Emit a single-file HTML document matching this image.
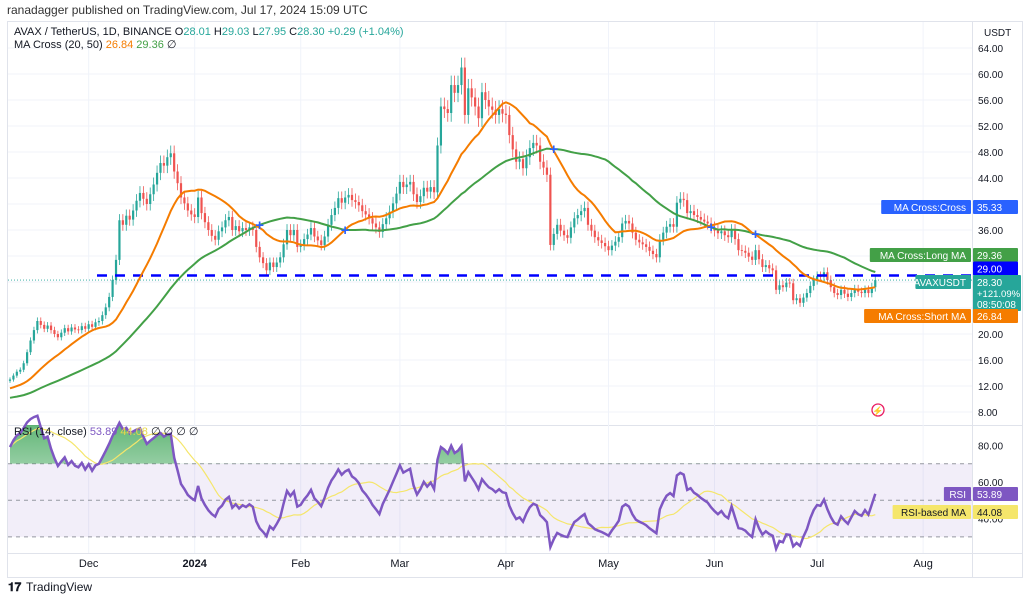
<!DOCTYPE html>
<html><head><meta charset="utf-8"><style>
body{margin:0;background:#fff;font-family:"Liberation Sans",sans-serif;}
svg{display:block}
text{font-family:"Liberation Sans",sans-serif}
</style></head><body>
<svg id="c" width="1030" height="600" viewBox="0 0 1030 600">
<defs>
<linearGradient id="gf" x1="0" y1="0" x2="0" y2="1"><stop offset="0" stop-color="#2e9e4a" stop-opacity="0.8"/><stop offset="1" stop-color="#2e9e4a" stop-opacity="0"/></linearGradient>
<clipPath id="ob"><rect x="8" y="425" width="964" height="38.7"/></clipPath>
</defs>
<text x="7" y="14" font-size="12" fill="#333">ranadagger published on TradingView.com, Jul 17, 2024 15:09 UTC</text>
<rect x="7.5" y="21.5" width="1015" height="556" fill="none" stroke="#e0e3eb"/>
<line x1="8" y1="425.5" x2="1022" y2="425.5" stroke="#e0e3eb"/>
<line x1="8" y1="553.5" x2="1022" y2="553.5" stroke="#e0e3eb"/>
<line x1="972.5" y1="22" x2="972.5" y2="577" stroke="#e0e3eb"/>
<g id="grid"></g>
<rect x="8" y="463.7" width="964" height="73.2" fill="#7e57c2" fill-opacity="0.1"/>
<g id="rsiLines"></g>
<g id="plot"></g>
<g id="axes"></g>
<text x="14" y="35" font-size="11"><tspan fill="#131722">AVAX / TetherUS, 1D, BINANCE  O</tspan><tspan fill="#26a69a">28.01</tspan><tspan fill="#131722">  H</tspan><tspan fill="#26a69a">29.03</tspan><tspan fill="#131722">  L</tspan><tspan fill="#26a69a">27.95</tspan><tspan fill="#131722">  C</tspan><tspan fill="#26a69a">28.30  +0.29 (+1.04%)</tspan></text>
<text x="14" y="48" font-size="11"><tspan fill="#131722">MA Cross (20, 50)  </tspan><tspan fill="#f57c00">26.84</tspan><tspan fill="#43a047">  29.36</tspan><tspan fill="#131722">  ∅</tspan></text>
<text x="14" y="435" font-size="11"><tspan fill="#131722">RSI (14, close)  </tspan><tspan fill="#7e57c2">53.89</tspan><tspan fill="#e8d74a">  44.08</tspan><tspan fill="#131722">  ∅  ∅  ∅  ∅</tspan></text>
<circle cx="878" cy="410" r="6" fill="none" stroke="#e91e63" stroke-width="1.3"/>
<text x="878" y="414" font-size="9" fill="#e91e63" text-anchor="middle">⚡</text>
<text x="8" y="591" font-size="12" font-weight="bold" fill="#131722">𝟏𝟕</text>
<text x="26" y="591" font-size="12" fill="#131722">TradingView</text>
</svg>
<script>
const prior=[9.2,9.3,9.1,9.0,9.2,9.4,9.3,9.2,9.1,9.3,9.6,9.4,9.2,9.0,8.9,8.8,8.9,9.0,9.1,9.0,8.9,8.8,8.9,9.1,9.3,9.5,9.4,9.6,9.8,10.0,10.3,10.6,10.4,10.8,11.0,10.9,11.2,11.4,11.3,11.6,11.8,12.1,11.9,12.2,12.0,12.4,12.6,12.5,12.8];
const closes=[13.0,13.6,14.2,14.5,15.5,17.2,19.0,20.6,22.0,21.4,
20.8,21.3,20.6,20.0,19.5,20.2,20.9,20.4,21.0,20.7,
20.6,21.2,20.8,21.5,21.1,21.8,22.0,22.9,24.1,25.7,
28.3,31.4,37.5,36.8,38.2,37.6,39.0,40.5,41.7,40.8,
40.0,41.5,43.0,44.8,46.3,45.9,47.2,47.8,45.0,43.2,
41.0,40.1,39.0,38.4,38.0,41.0,38.6,37.2,36.0,35.1,
34.5,35.8,36.4,37.5,38.0,36.0,36.6,35.8,36.3,36.0,
36.4,36.0,33.4,31.8,30.9,29.8,31.0,30.3,31.0,31.8,
33.8,36.0,35.2,36.0,33.4,33.7,34.6,35.3,36.3,35.0,
34.4,33.7,35.0,36.8,38.3,39.4,40.9,40.2,41.0,41.4,
40.6,40.3,39.8,38.9,38.4,37.8,37.0,36.4,35.7,36.9,
37.8,38.8,40.1,41.6,43.4,42.6,43.0,43.4,41.5,40.3,
41.2,42.5,41.9,42.6,41.8,49.0,55.0,54.6,54.0,58.3,
57.1,58.3,61.0,53.7,57.8,56.4,55.0,53.2,57.2,56.0,
55.0,54.5,53.7,54.6,53.9,53.7,50.6,48.4,46.5,46.9,
45.5,47.2,48.6,49.4,49.0,46.5,45.6,44.5,33.7,35.4,
36.8,35.9,35.2,34.8,36.4,37.8,38.3,38.9,39.4,36.8,
35.9,34.9,34.4,34.0,33.5,32.9,33.6,34.2,34.9,37.0,
37.4,37.0,35.6,34.5,34.1,33.8,33.4,32.8,32.3,31.8,
34.5,35.6,36.5,36.9,36.5,40.2,40.8,40.6,38.6,38.9,
38.3,38.0,37.6,37.3,37.0,36.4,35.9,35.5,35.8,35.2,
34.9,36.0,34.6,32.9,32.8,32.5,31.9,31.4,32.9,31.5,
30.3,30.6,30.1,29.8,26.8,27.5,27.2,27.9,27.8,25.2,
25.5,24.8,25.6,26.3,27.4,28.3,28.9,28.8,29.5,28.3,
27.2,26.3,26.0,26.8,26.2,25.7,26.3,26.9,26.5,26.3,
26.8,26.3,27.2,28.3];
const priceTicks=[8,12,16,20,24,28,32,36,40,44,48,52,56,60,64];
const rsiTicks=[40,60,80];
const monthLabels=["Dec","2024","Feb","Mar","Apr","May","Jun","Jul","Aug"];
const monthDays=[23,54,85,114,145,175,206,236,267];
const resistance=29.0;
const NS="http://www.w3.org/2000/svg";
const xOf=d=>10+d*3.42;
const yP=p=>412-(p-8)*6.5;
const yR=r=>482-(r-60)*1.83;
function mk(tag,at,parent){const e=document.createElementNS(NS,tag);for(const k in at)e.setAttribute(k,at[k]);document.getElementById(parent).appendChild(e);return e;}
const all=prior.concat(closes),P=prior.length;
function sma(n,i){let s=0,c=0;for(let k=Math.max(0,i-n+1);k<=i;k++){s+=all[k];c++;}return s/c;}
monthDays.forEach((d,i)=>{const x=xOf(d);if(x<972){let g=mk('line',{x1:x,x2:x,y1:22,y2:553,stroke:'#f0f3fa'},'grid');

}
let t=mk('text',{x:x,y:567,'font-size':11,fill:'#131722','text-anchor':'middle','font-weight':i==1?'bold':'normal'},'axes');t.textContent=monthLabels[i];

});
priceTicks.forEach(p=>{let g=mk('line',{x1:8,x2:972,y1:yP(p),y2:yP(p),stroke:'#f0f3fa'},'grid');


let t=mk('text',{x:978,y:yP(p)+4,'font-size':10,fill:'#131722'},'axes');t.textContent=p.toFixed(2);

});
let ut=mk('text',{x:984,y:36,'font-size':10,fill:'#131722'},'axes');ut.textContent='USDT';


rsiTicks.forEach(r=>{let t=mk('text',{x:978,y:yR(r)+4,'font-size':10,fill:'#131722'},'axes');t.textContent=r.toFixed(2);

});
[70,50,30].forEach(r=>{let l=mk('line',{x1:8,x2:972,y1:yR(r),y2:yR(r),stroke:'#9598a1','stroke-dasharray':'4,4','stroke-width':1},'rsiLines');

});
closes.forEach((c,i)=>{const o=all[P+i-1],x=xOf(i),up=c>=o,col=up?'#26a69a':'#ef5350';
const hi=Math.max(o,c)*1.025,lo=Math.min(o,c)*0.975;
let w=mk('line',{x1:x,x2:x,y1:yP(hi),y2:yP(lo),stroke:col,'stroke-width':0.8},'plot');


let b=mk('rect',{x:x-1.1,y:yP(Math.max(o,c)),width:2.2,height:Math.max(0.8,Math.abs(yP(o)-yP(c))),fill:col},'plot');

});
let rl=mk('line',{x1:97,x2:972,y1:yP(resistance),y2:yP(resistance),stroke:'#0000ff','stroke-width':2.5,'stroke-dasharray':'10,8'},'plot');


const last=closes[closes.length-1];
let ll=mk('line',{x1:8,x2:972,y1:yP(last),y2:yP(last),stroke:'#26a69a','stroke-width':0.8,'stroke-dasharray':'1,2'},'plot');


const s20=closes.map((_,i)=>sma(20,P+i)),s50=closes.map((_,i)=>sma(50,P+i));
[[s50,'#43a047','ma-long-line'],[s20,'#f57c00','ma-short-line']].forEach(([s,col,nm])=>{
let p=mk('path',{d:s.map((v,i)=>(i?'L':'M')+xOf(i).toFixed(1)+','+yP(v).toFixed(1)).join(''),fill:'none',stroke:col,'stroke-width':2},'plot');

});
for(let i=1;i<closes.length;i++){if(Math.sign(s20[i]-s50[i])!=Math.sign(s20[i-1]-s50[i-1])){
let m=mk('text',{x:xOf(i),y:yP(s50[i])+5,'font-size':15,'font-weight':'bold',fill:'#2962ff','text-anchor':'middle'},'plot');m.textContent='+';

}}
let ag=0,al=0;const rsi=[];
for(let k=1;k<all.length;k++){const ch=all[k]-all[k-1],g=Math.max(ch,0),l=Math.max(-ch,0);
if(k<=14){ag+=g/14;al+=l/14;}else{ag=(ag*13+g)/14;al=(al*13+l)/14;}
if(k>=P)rsi.push(al==0?100:100-100/(1+ag/al));}
const rma=rsi.map((_,i)=>{let s=0,c=0;for(let k=Math.max(0,i-13);k<=i;k++){s+=rsi[k];c++;}return s/c;});
const rp=rsi.map((v,i)=>xOf(i).toFixed(1)+','+yR(v).toFixed(1));
let fa=mk('path',{d:'M'+xOf(0)+','+yR(70)+'L'+rp.join('L')+'L'+xOf(rsi.length-1)+','+yR(70)+'Z',fill:'url(#gf)','clip-path':'url(#ob)'},'plot');


let rm=mk('path',{d:'M'+rma.map((v,i)=>xOf(i).toFixed(1)+','+yR(v).toFixed(1)).join('L'),fill:'none',stroke:'#f5e66b','stroke-width':1.2},'plot');


let rv=mk('path',{d:'M'+rp.join('L'),fill:'none',stroke:'#7e57c2','stroke-width':2.5},'plot');


function tag(y,h,lbl,val,col,tc,nm){
if(lbl){const w=lbl.length*5.7+10;let r=mk('rect',{x:971-w,y:y-7,width:w,height:14,fill:col,rx:1},'axes');


let t=mk('text',{x:966,y:y+4,'font-size':10,fill:tc,'text-anchor':'end'},'axes');t.textContent=lbl;

}
let r2=mk('rect',{x:973,y:y-7,width:h>14?48:45,height:h,fill:col,rx:1},'axes');


val.forEach((v,k)=>{let t=mk('text',{x:977,y:y+4+k*11,'font-size':k==1?9.5:10,fill:tc},'axes');t.textContent=v;

});}
tag(207,14,'MA Cross:Cross',['35.33'],'#2962ff','#fff','cross-tag');
tag(255,14,'MA Cross:Long MA',['29.36'],'#43a047','#fff','long-ma-tag');
tag(268.5,14,null,['29.00'],'#0000ff','#fff','resistance-tag');
tag(282,36,'AVAXUSDT',['28.30','+121.09%','08:50:08'],'#26a69a','#fff','price-tag');
tag(316,14,'MA Cross:Short MA',['26.84'],'#f57c00','#fff','short-ma-tag');
tag(494,14,'RSI',['53.89'],'#7e57c2','#fff','rsi-tag');
tag(512,14,'RSI-based MA',['44.08'],'#f5e66b','#131722','rsi-ma-tag');
</script>
</body></html>
